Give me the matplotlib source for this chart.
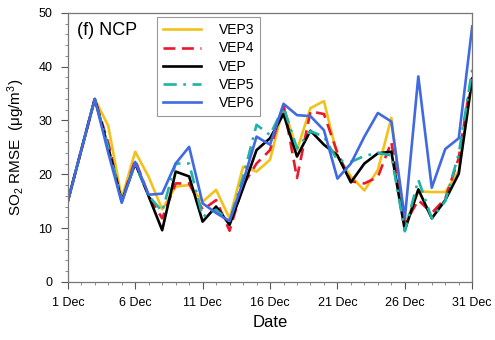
import matplotlib
matplotlib.use("Agg")
import matplotlib.pyplot as plt
from matplotlib.ticker import MultipleLocator

plt.rcParams['font.family'] = ['Liberation Sans', 'DejaVu Sans']
plt.rcParams['mathtext.fontset'] = 'custom'
plt.rcParams['mathtext.rm'] = 'Liberation Sans'
plt.rcParams['mathtext.it'] = 'Liberation Sans:italic'

days = list(range(1, 32))
tick_days = [1, 6, 11, 16, 21, 26, 31]
tick_labels = ["1 Dec", "6 Dec", "11 Dec", "16 Dec", "21 Dec", "26 Dec", "31 Dec"]

vep3 = [15, 24.5, 34, 29, 15.5, 24.2, 19.5, 13.5, 17.7, 18, 14.9, 17.1, 11.8, 21.4, 20.5, 22.7,
        32.6, 24.5, 32.3, 33.6, 23.3, 19.6, 17, 20.8, 30.5, 10.6, 16.8, 16.7, 16.7, 20.6, 37.5]
vep4 = [15, 24.5, 34, 25.8, 15, 22.7, 16, 11.8, 18.3, 18.3, 13.4, 15.2, 9.5, 18, 22, 24.5,
        33, 19.3, 31.7, 31.2, 24, 18.7, 18.3, 19.5, 26, 10.8, 15.2, 12.8, 15.5, 23, 39]
vep = [15, 24.5, 34, 25, 15, 22, 15.9, 9.6, 20.5, 19.6, 11.2, 14, 10.6, 17.4, 24.5, 26.7,
       31.2, 23.3, 28.1, 25.5, 23.5, 18.5, 22, 23.9, 24.2, 9.6, 17.2, 11.8, 15.2, 20.1, 37.8]
vep5 = [15, 24.5, 34, 25, 15, 22, 16, 13.1, 22, 22, 12.1, 13.4, 11.3, 19.5, 29.2, 27.3,
        32.5, 24.8, 28, 27, 22.6, 22.3, 23.4, 24, 23.5, 9.4, 19, 11.8, 15, 23.8, 39.5]
vep6 = [15, 24.5, 34, 24, 14.7, 22.3, 16.2, 16.4, 22, 25.1, 14.6, 12.8, 11.3, 18.6, 27, 25.5,
        33.1, 31, 30.8, 28.2, 19.2, 22, 27, 31.4, 29.8, 11.8, 38.2, 17.5, 24.7, 26.7, 47.5]

fig = plt.figure(figsize=(4.95, 3.40), dpi=100)
ax = fig.add_axes([0.137, 0.171, 0.817, 0.791])

lw = 1.9
ax.plot(days, vep3, color='#F2C21B', lw=lw, label='VEP3')
ax.plot(days, vep4, color='#E8192C', lw=lw, ls=(0, (4.5, 2.5)), label='VEP4')
ax.plot(days, vep, color='black', lw=lw, label='VEP')
ax.plot(days, vep5, color='#1FB2A6', lw=lw, ls=(0, (5, 2.5, 1, 2.5)), label='VEP5')
ax.plot(days, vep6, color='#4169E1', lw=lw, label='VEP6')

ax.set_xlim(1, 31)
ax.set_ylim(0, 50)
ax.set_xticks(tick_days)
ax.set_xticklabels(tick_labels)
ax.xaxis.set_minor_locator(MultipleLocator(1))
ax.yaxis.set_major_locator(MultipleLocator(10))
ax.yaxis.set_minor_locator(MultipleLocator(2))
ax.tick_params(axis='both', which='major', direction='out', length=5, width=0.8,
               labelsize=9, color='#555555', top=False, right=False, pad=6)
ax.tick_params(axis='both', which='minor', direction='out', length=2.5, width=0.6,
               color='#777777', top=False, right=False)
for s in ax.spines.values():
    s.set_color('#777777')
    s.set_linewidth(0.9)

ax.set_xlabel('Date', fontsize=12, labelpad=4)
ax.set_ylabel(r'SO$_2$ RMSE  ($\mathrm{\mu g/m^3}$)', fontsize=11, labelpad=8)

ax.text(0.022, 0.965, '(f) NCP', transform=ax.transAxes, fontsize=13,
        ha='left', va='top')

leg = ax.legend(loc='upper left', bbox_to_anchor=(0.22, 0.985), fontsize=10,
                frameon=True, fancybox=False, edgecolor='#999999', framealpha=1,
                handlelength=2.7, handletextpad=1.3, labelspacing=0.3,
                borderpad=0.45, borderaxespad=0.0)
leg.get_frame().set_linewidth(0.8)

fig.savefig('out.png', dpi=100)
